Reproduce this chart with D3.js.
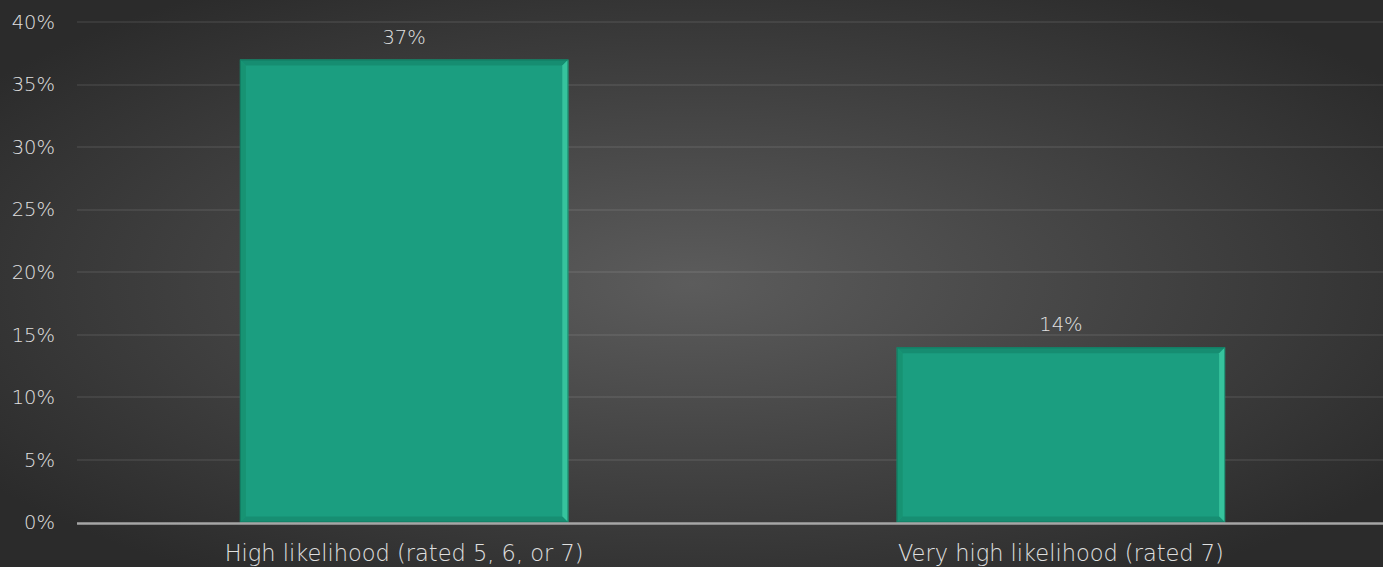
<!DOCTYPE html>
<html>
<head>
<meta charset="utf-8">
<script src="https://cdn.jsdelivr.net/npm/d3@7"></script>
<style>
  html, body { margin: 0; padding: 0; background: #333; overflow: hidden; }
  svg { display: block; }
</style>
</head>
<body>
<div id="chart"></div>
<script>
// chart data
const categories = ["High likelihood (rated 5, 6, or 7)", "Very high likelihood (rated 7)"];
const values = [0.37, 0.14];
const yTicks = [0, 0.05, 0.10, 0.15, 0.20, 0.25, 0.30, 0.35, 0.40];

const width = 1383;
const height = 567;
const margin = { top: 22, left: 77, right: -5, bottom: 45 };
const fontFamily = "'DejaVu Sans', sans-serif";
const textColor = '#e0e0e0';

const svg = d3.select('#chart')
  .append('svg')
  .attr('width', width)
  .attr('height', height);

const defs = svg.append('defs');

// dark radial background
const bg = defs.append('radialGradient')
  .attr('id', 'bg')
  .attr('cx', '50%').attr('cy', '50%').attr('r', '62%')
  .attr('gradientUnits', 'objectBoundingBox');
bg.append('stop').attr('offset', '0%').attr('stop-color', '#5c5c5c');
bg.append('stop').attr('offset', '100%').attr('stop-color', '#2b2b2b');

svg.append('rect')
  .attr('width', width)
  .attr('height', height)
  .attr('fill', 'url(#bg)');

const x = d3.scaleBand()
  .domain(categories)
  .range([margin.left, width - margin.right])
  .paddingInner(0.5)
  .paddingOuter(0.248);

const y = d3.scaleLinear()
  .domain([0, 0.40])
  .range([height - margin.bottom + 0.5, margin.top]);

// gridlines
svg.append('g')
  .selectAll('line')
  .data(yTicks.slice(1))
  .join('line')
  .attr('x1', margin.left)
  .attr('x2', width)
  .attr('y1', d => Math.round(y(d)))
  .attr('y2', d => Math.round(y(d)))
  .attr('stroke', '#ffffff')
  .attr('stroke-opacity', 0.075)
  .attr('stroke-width', 2);

// y axis labels
const yAxis = svg.append('g')
  .attr('transform', `translate(${margin.left},0)`)
  .call(d3.axisLeft(y).tickValues(yTicks).tickFormat(d3.format('.0%')).tickSize(0).tickPadding(22));
yAxis.select('.domain').remove();
yAxis.selectAll('text')
  .style('font-family', fontFamily)
  .style('font-weight', 300)
  .style('font-size', '19.5px')
  .style('fill', textColor);

// bars with bevel edges
const bev = 6;
const bars = svg.append('g')
  .selectAll('g')
  .data(categories.map((c, i) => ({ cat: c, val: values[i] })))
  .join('g');

bars.each(function(d) {
  const g = d3.select(this);
  const x0 = x(d.cat), x1 = x(d.cat) + x.bandwidth();
  const y0 = y(d.val), y1 = y(0);
  g.append('rect')
    .attr('x', x0).attr('y', y0)
    .attr('width', x1 - x0).attr('height', y1 - y0)
    .attr('fill', '#1b9e80');
  // top
  g.append('polygon')
    .attr('points', [[x0, y0], [x1, y0], [x1 - bev, y0 + bev], [x0 + bev, y0 + bev]].join(' '))
    .attr('fill', '#168d71');
  // left
  g.append('polygon')
    .attr('points', [[x0, y0], [x0 + bev, y0 + bev], [x0 + bev, y1 - bev], [x0, y1]].join(' '))
    .attr('fill', '#179373');
  // right
  g.append('polygon')
    .attr('points', [[x1, y0], [x1, y1], [x1 - bev, y1 - bev], [x1 - bev, y0 + bev]].join(' '))
    .attr('fill', '#36c39d');
  // bottom
  g.append('polygon')
    .attr('points', [[x0, y1], [x1, y1], [x1 - bev, y1 - bev], [x0 + bev, y1 - bev]].join(' '))
    .attr('fill', '#178e72');
  // outline
  g.append('rect')
    .attr('x', x0 + 0.5).attr('y', y0 + 0.5)
    .attr('width', x1 - x0 - 1).attr('height', y1 - y0 - 1)
    .attr('fill', 'none')
    .attr('stroke', '#0f6f58')
    .attr('stroke-opacity', 0.6)
    .attr('stroke-width', 1);
});

// value labels
bars.append('text')
  .attr('x', d => x(d.cat) + x.bandwidth() / 2)
  .attr('y', d => y(d.val) - 16)
  .attr('text-anchor', 'middle')
  .style('font-family', fontFamily)
  .style('font-weight', 300)
  .style('font-size', '19.5px')
  .style('fill', textColor)
  .text(d => d3.format('.0%')(d.val));

// x axis line
svg.append('line')
  .attr('x1', margin.left)
  .attr('x2', width)
  .attr('y1', y(0) + 1)
  .attr('y2', y(0) + 1)
  .attr('stroke', '#a6a6a6')
  .attr('stroke-width', 2.5);

// category labels
svg.append('g')
  .selectAll('text')
  .data(categories)
  .join('text')
  .attr('x', d => x(d) + x.bandwidth() / 2)
  .attr('y', 561)
  .attr('text-anchor', 'middle')
  .style('font-family', fontFamily)
  .style('font-weight', 300)
  .style('font-size', '22.5px')
  .style('fill', textColor)
  .text(d => d);
</script>
</body>
</html>
